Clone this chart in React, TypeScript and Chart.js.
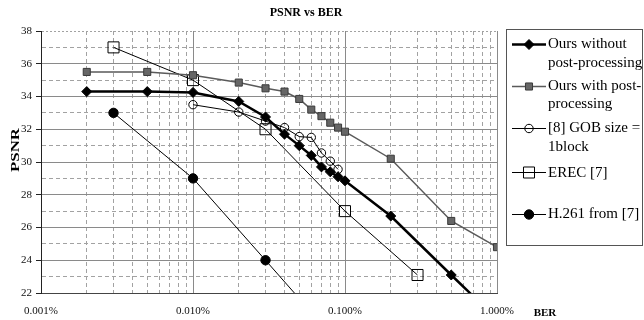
import React, { useEffect, useRef } from 'react';
import { Chart, registerables } from 'chart.js';

Chart.register(...registerables);

const FONT = '"Liberation Serif", "Times New Roman", serif';

const chartTitle = 'PSNR vs BER';
const xAxisTitle = 'BER';
const yAxisTitle = 'PSNR';

// BER in percent
const berOursWithout = [0.002, 0.005, 0.01, 0.02, 0.03, 0.04, 0.05, 0.06, 0.07, 0.08, 0.09, 0.1, 0.2, 0.5, 1];
const psnrOursWithout = [34.3, 34.3, 34.25, 33.7, 32.75, 31.7, 31.0, 30.4, 29.7, 29.4, 29.1, 28.85, 26.7, 23.1, 20.4];

const berOursWith = [0.002, 0.005, 0.01, 0.02, 0.03, 0.04, 0.05, 0.06, 0.07, 0.08, 0.09, 0.1, 0.2, 0.5, 1];
const psnrOursWith = [35.5, 35.5, 35.3, 34.85, 34.5, 34.3, 33.85, 33.2, 32.8, 32.4, 32.1, 31.85, 30.2, 26.4, 24.8];

const berGob = [0.01, 0.02, 0.03, 0.04, 0.05, 0.06, 0.07, 0.08, 0.09];
const psnrGob = [33.5, 33.05, 32.5, 32.1, 31.55, 31.5, 30.55, 30.05, 29.55];

const berErec = [0.003, 0.01, 0.03, 0.1, 0.3];
const psnrErec = [37, 35, 32, 27, 23.1];

const berH261 = [0.003, 0.01, 0.03, 0.1];
const psnrH261 = [33, 29, 24, 18.5];

const legendLines: string[][] = [
  ['Ours without', 'post-processing'],
  ['Ours with post-', 'processing'],
  ['[8] GOB size =', '1block'],
  ['EREC [7]'],
  ['H.261 from [7]'],
];

const xDecades = [0.001, 0.01, 0.1, 1];
const xMinorMultipliers = [1, 2, 3, 4, 5, 6, 7, 8, 9];
const yMin = 22;
const yMax = 38;

const toPts = (xs: number[], ys: number[]) => xs.map((x, i) => ({ x, y: ys[i] }));

const MAJOR = '#8a8a8a';
const MINOR = '#a2a2a2';

function drawMarker(ctx: CanvasRenderingContext2D, style: string, x: number, y: number, r: number, fill: string, stroke: string, lw: number) {
  ctx.beginPath();
  if (style === 'circle') {
    ctx.arc(x, y, r, 0, Math.PI * 2);
  } else if (style === 'rect') {
    const s = Math.SQRT1_2 * r;
    ctx.rect(x - s, y - s, 2 * s, 2 * s);
  } else if (style === 'rectRot') {
    ctx.moveTo(x - r, y);
    ctx.lineTo(x, y - r);
    ctx.lineTo(x + r, y);
    ctx.lineTo(x, y + r);
    ctx.closePath();
  }
  ctx.fillStyle = fill;
  ctx.fill();
  ctx.lineWidth = lw;
  ctx.strokeStyle = stroke;
  ctx.stroke();
}

const overlayPlugin = {
  id: 'overlay',
  afterDraw(chart: any) {
    const ctx: CanvasRenderingContext2D = chart.ctx;
    ctx.save();
    ctx.fillStyle = '#000';
    ctx.textAlign = 'center';
    ctx.textBaseline = 'middle';
    ctx.font = `bold 12px ${FONT}`;
    ctx.fillText(chartTitle, 306, 13);
    ctx.font = `bold 11px ${FONT}`;
    ctx.fillText(xAxisTitle, 545, 313);

    ctx.save();
    ctx.translate(16, 150);
    ctx.rotate(-Math.PI / 2);
    ctx.scale(1.4, 1);
    ctx.font = `bold 12px ${FONT}`;
    ctx.fillText(yAxisTitle, 0, 0);
    ctx.restore();

    // legend box
    ctx.strokeStyle = '#555';
    ctx.lineWidth = 1;
    ctx.strokeRect(506.5, 29.5, 136, 216);

    const baselines = [[48.3, 66.7], [90, 108.3], [132.3, 150.7], [176.7], [218.3]];
    ctx.textAlign = 'left';
    ctx.textBaseline = 'alphabetic';
    ctx.font = `15px ${FONT}`;
    chart.data.datasets.forEach((ds: any, i: number) => {
      const bl = baselines[i];
      const ly = Math.round(bl[0] - 4.5) + 0.5;
      ctx.beginPath();
      ctx.moveTo(512, ly);
      ctx.lineTo(546, ly);
      ctx.strokeStyle = ds.borderColor;
      ctx.lineWidth = ds.borderWidth;
      ctx.stroke();
      drawMarker(ctx, ds.pointStyle, 529, ly, ds.pointRadius, ds.pointBackgroundColor, ds.pointBorderColor, ds.pointBorderWidth);
      ctx.fillStyle = '#000';
      legendLines[i].forEach((t, j) => ctx.fillText(t, 548, bl[j]));
    });
    ctx.restore();
  },
};

export default function App() {
  const ref = useRef<HTMLCanvasElement>(null);
  useEffect(() => {
    document.body.style.margin = '0';
    const xTicks: any[] = [];
    xDecades.forEach((d, di) => {
      xMinorMultipliers.forEach((m) => {
        if (di === xDecades.length - 1 && m > 1) return;
        xTicks.push({ value: d * m, isDecade: m === 1 });
      });
    });

    const chart = new Chart(ref.current as HTMLCanvasElement, {
      type: 'line',
      data: {
        datasets: [
          {
            label: legendLines[0].join(' '),
            data: toPts(berOursWithout, psnrOursWithout),
            borderColor: '#000',
            borderWidth: 2.5,
            pointStyle: 'rectRot',
            pointRadius: 5,
            pointBackgroundColor: '#000',
            pointBorderColor: '#000',
            pointBorderWidth: 1,
            tension: 0,
          },
          {
            label: legendLines[1].join(' '),
            data: toPts(berOursWith, psnrOursWith),
            borderColor: '#5a5a5a',
            borderWidth: 1.5,
            pointStyle: 'rect',
            pointRadius: 5,
            pointBackgroundColor: '#666',
            pointBorderColor: '#3a3a3a',
            pointBorderWidth: 1,
            tension: 0,
          },
          {
            label: legendLines[2].join(' '),
            data: toPts(berGob, psnrGob),
            borderColor: '#000',
            borderWidth: 1,
            pointStyle: 'circle',
            pointRadius: 4.2,
            pointBackgroundColor: 'rgba(255,255,255,0)',
            pointBorderColor: '#000',
            pointBorderWidth: 1,
            tension: 0,
          },
          {
            label: legendLines[3].join(' '),
            data: toPts(berErec, psnrErec),
            borderColor: '#000',
            borderWidth: 1,
            pointStyle: 'rect',
            pointRadius: 7.8,
            pointBackgroundColor: 'rgba(255,255,255,0)',
            pointBorderColor: '#000',
            pointBorderWidth: 1,
            tension: 0,
          },
          {
            label: legendLines[4].join(' '),
            data: toPts(berH261, psnrH261),
            borderColor: '#000',
            borderWidth: 1,
            pointStyle: 'circle',
            pointRadius: 4.7,
            pointBackgroundColor: '#000',
            pointBorderColor: '#000',
            pointBorderWidth: 1,
            tension: 0,
          },
        ] as any,
      },
      options: {
        animation: false,
        responsive: true,
        maintainAspectRatio: false,
        layout: { padding: { top: 31, right: 147, left: 0, bottom: 0 } },
        plugins: {
          legend: { display: false },
          title: { display: false },
          tooltip: { enabled: false },
        },
        scales: {
          x: {
            type: 'logarithmic',
            min: 0.001,
            max: 1,
            afterBuildTicks: (s: any) => {
              s.ticks = xTicks.map((t) => ({ ...t }));
            },
            afterFit: (s: any) => {
              s.height = 27;
            },
            grid: {
              color: (c: any) => (c.tick && c.tick.isDecade ? MAJOR : MINOR),
              lineWidth: 1,
              drawTicks: false,
              tickBorderDash: [],
            },
            border: {
              display: true,
              color: '#444',
              width: 1,
              dash: (c: any) => (c.tick ? (c.tick.isDecade ? [] : [4, 3]) : []),
            },
            ticks: {
              autoSkip: false,
              maxRotation: 0,
              minRotation: 0,
              padding: 12,
              color: '#111',
              font: { family: FONT, size: 11 },
              callback: (v: any, i: number, ticks: any[]) =>
                ticks[i] && ticks[i].isDecade ? Number(v).toFixed(3) + '%' : '',
            },
          },
          y: {
            min: yMin,
            max: yMax,
            afterFit: (s: any) => {
              s.width = 41;
            },
            grid: {
              color: (c: any) => (c.tick && c.tick.value % 2 === 0 && c.tick.value !== yMax ? MAJOR : MINOR),
              lineWidth: 1,
              tickLength: 5,
              tickColor: (c: any) => (c.tick && c.tick.value % 2 === 0 ? '#222' : 'rgba(0,0,0,0)'),
              tickBorderDash: [],
            },
            border: {
              display: true,
              color: '#222',
              width: 1,
              dash: (c: any) => {
                if (!c.tick) return [];
                if (c.tick.value === yMax) return [2, 2];
                return c.tick.value % 2 === 0 ? [] : [4, 3];
              },
            },
            ticks: {
              stepSize: 1,
              autoSkip: false,
              padding: 4,
              color: '#111',
              font: { family: FONT, size: 11 },
              callback: (v: any) => (Number(v) % 2 === 0 ? String(v) : ''),
            },
          },
        },
      } as any,
      plugins: [overlayPlugin],
    });
    return () => chart.destroy();
  }, []);

  return (
    <div style={{ position: 'relative', width: 644, height: 320 }}>
      <canvas ref={ref} />
    </div>
  );
}
